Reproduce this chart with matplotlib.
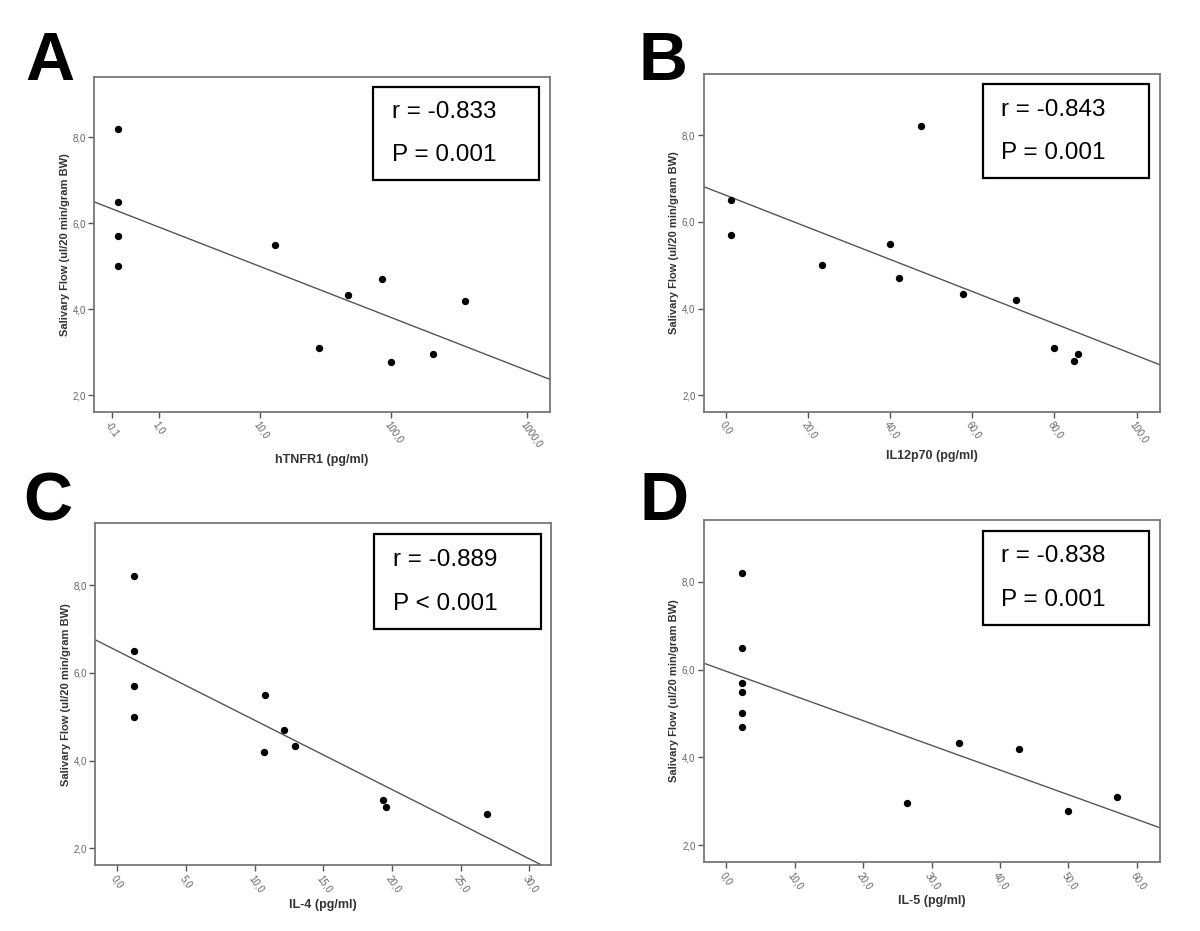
import numpy as np
import matplotlib
matplotlib.use("Agg")
import matplotlib.pyplot as plt
from matplotlib import font_manager

plt.rcParams['font.family'] = ['Liberation Sans', 'DejaVu Sans']

# axis labels in the original look like a condensed bold face
installed = {f.name for f in font_manager.fontManager.ttflist}
if 'Liberation Sans Narrow' in installed:
    label_font = 'Liberation Sans Narrow'
    xlab_size, ylab_size, tick_size = 10.5, 10, 8
else:
    label_font = 'Liberation Sans'
    xlab_size, ylab_size, tick_size = 9, 8, 7

# salivary flow, same 11 animals in every panel
flow = [8.2, 6.5, 5.7, 5.0, 5.5, 3.1, 4.33, 4.7, 2.78, 2.95, 4.2]

# cytokine levels (pg/ml), same order as flow
htnfr1 = [0.0, 0.0, 0.0, 0.0, 13.2, 28.7, 47.5, 86.3, 99.7, 203, 350]
il12p70 = [47.4, 1.3, 1.3, 23.4, 39.9, 79.8, 57.8, 42.2, 84.8, 85.7, 70.7]
il4 = [1.23, 1.23, 1.23, 1.23, 10.79, 19.37, 12.92, 12.11, 26.96, 19.6, 10.71]
# il5 panel has six points at ~2.4
il5 = [2.36, 2.36, 2.36, 2.36, 2.36, 57.1, 33.96, 2.36, 49.96, 26.4, 42.8]
flow_il5 = [8.2, 6.5, 5.7, 5.5, 5.0, 3.1, 4.33, 4.7, 2.78, 2.95, 4.2]

panels = [
    ("A", htnfr1, flow, "hTNFR1 (pg/ml)", "r = -0.833", "P = 0.001",
     [-0.1, 1, 10, 100, 1000], ["-0,1", "1,0", "10,0", "100,0", "1000,0"], (-0.329, 1482), True),
    ("B", il12p70, flow, "IL12p70 (pg/ml)", "r = -0.843", "P = 0.001",
     [0, 20, 40, 60, 80, 100], ["0,0", "20,0", "40,0", "60,0", "80,0", "100,0"], (-5.4, 105.6), False),
    ("C", il4, flow, "IL-4 (pg/ml)", "r = -0.889", "P < 0.001",
     [0, 5, 10, 15, 20, 25, 30], ["0,0", "5,0", "10,0", "15,0", "20,0", "25,0", "30,0"], (-1.6, 31.6), False),
    ("D", il5, flow_il5, "IL-5 (pg/ml)", "r = -0.838", "P = 0.001",
     [0, 10, 20, 30, 40, 50, 60], ["0,0", "10,0", "20,0", "30,0", "40,0", "50,0", "60,0"], (-3.25, 63.3), False),
]

yticks = [2.0, 4.0, 6.0, 8.0]
ytick_labels = ["2,0", "4,0", "6,0", "8,0"]

# axes rectangles in figure fractions
rects = [
    [0.0785, 0.5578, 0.3798, 0.3598],
    [0.5865, 0.5578, 0.3798, 0.3627],
    [0.0795, 0.0709, 0.3798, 0.367],
    [0.5865, 0.0744, 0.3798, 0.367],
]
letter_pos = [(0.021, 0.968), (0.532, 0.968), (0.019, 0.495), (0.533, 0.495)]

fig = plt.figure(figsize=(12, 9.31), dpi=100)


def fwd(x):
    return np.log10(np.asarray(x, dtype=float) + 1)


def inv(y):
    return 10 ** np.asarray(y, dtype=float) - 1


for (letter, xs, ys, xlabel, rtxt, ptxt, xt, xtl, xlim, logx), rect, lp in zip(panels, rects, letter_pos):
    ax = fig.add_axes(rect)
    xs = np.array(xs, dtype=float)
    ys = np.array(ys, dtype=float)
    if logx:
        ax.set_xscale('function', functions=(fwd, inv))
        xfit = fwd(xs)
    else:
        xfit = xs
    slope, icpt = np.polyfit(xfit, ys, 1)
    ax.set_xlim(*xlim)
    ax.set_ylim(1.62, 9.41)
    xl = np.array(xlim)
    yl = slope * (fwd(xl) if logx else xl) + icpt
    ax.plot(xl, yl, color="#555555", lw=1.0, zorder=2)
    ax.scatter(xs, ys, s=28, color="black", zorder=3, linewidths=0)

    ax.set_xticks(xt)
    ax.set_xticklabels(xtl, rotation=-55, ha="left", va="top", rotation_mode="anchor",
                       fontsize=tick_size, color="#666666", family=label_font)
    ax.set_yticks(yticks)
    ax.set_yticklabels(ytick_labels, fontsize=tick_size, color="#666666", family=label_font)
    ax.minorticks_off()
    ax.tick_params(direction="out", length=4, width=1, color="#555555", pad=2)
    for s in ax.spines.values():
        s.set_color("#777777")
        s.set_linewidth(1.3)
    ax.set_xlabel(xlabel, fontsize=xlab_size, fontweight="bold", color="#333333",
                  labelpad=3, family=label_font)
    ax.set_ylabel("Salivary Flow (ul/20 min/gram BW)", fontsize=ylab_size, fontweight="bold",
                  color="#333333", labelpad=2, family=label_font)

    # r / P box
    box = plt.Rectangle((0.612, 0.692), 0.365, 0.277, transform=ax.transAxes,
                        facecolor="white", edgecolor="black", lw=1.6, zorder=4)
    ax.add_patch(box)
    ax.text(0.653, 0.894, rtxt, transform=ax.transAxes, fontsize=17.5, va="center", ha="left", zorder=5)
    ax.text(0.653, 0.765, ptxt, transform=ax.transAxes, fontsize=17.5, va="center", ha="left", zorder=5)

    fig.text(lp[0], lp[1], letter, fontsize=49, fontweight="bold", va="top", ha="left")

fig.savefig("out.png", dpi=100)
